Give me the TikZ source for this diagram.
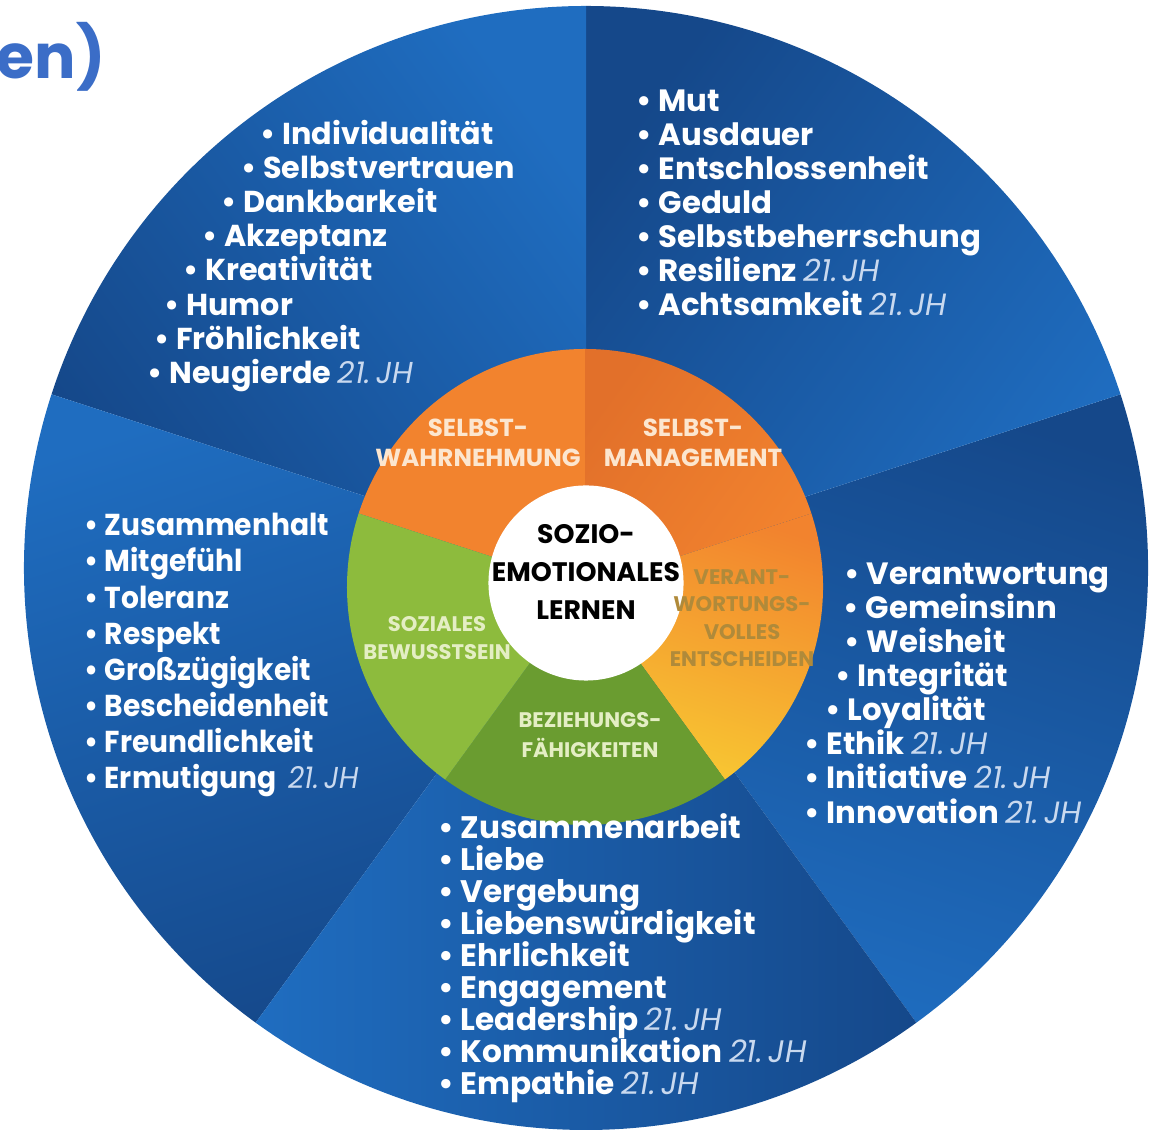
\documentclass[tikz,border=0pt]{standalone}
\usepackage{fontspec}
\setmainfont{Poppins}
\newfontfamily\narrowfont{Poppins}[FakeStretch=0.93]
\usepackage{xcolor}
\usetikzlibrary{positioning}

\definecolor{titleblue}{HTML}{3B6DC7}
\definecolor{bluedark}{HTML}{15488A}
\definecolor{bluelight}{HTML}{1F6DC0}
\definecolor{orangeL}{HTML}{F2832E}
\definecolor{orangeD}{HTML}{E2702A}
\definecolor{sunny}{HTML}{F8C832}
\definecolor{greenL}{HTML}{8DBB3D}
\definecolor{greenD}{HTML}{6A9C30}
\definecolor{cream}{HTML}{FCE6CF}
\definecolor{palegreen}{HTML}{E4EEC4}
\definecolor{ochre}{HTML}{B08A3A}
\definecolor{jhblue}{HTML}{C9D9EF}

\newcommand{\jh}{{\mdseries\itshape\color{jhblue}21.\,JH}}
\newcommand{\itm}{\textbullet\ }
\newcommand{\tightlines}{\lineskiplimit=-20pt\relax}

\begin{document}
\begin{tikzpicture}[
    x=0.01cm, y=0.01cm,
    list/.style={anchor=west, align=left, inner sep=0pt, text=white,
        font=\bfseries\fontsize{8.6}{9.7}\selectfont\tightlines},
    ring/.style={align=center, inner sep=0pt, font=\bfseries\fontsize{6}{7.8}\selectfont}
]
\useasboundingbox (0,0) rectangle (1158,1131);

\coordinate (mid) at (586,563);
\coordinate (hub) at (585,544);

% outer fan, each piece darker at its counter-clockwise edge
\foreach \a in {-54,18,90,162,234}{
    \pgfmathsetmacro{\sa}{\a+36}
    \shade[top color=bluedark, bottom color=bluelight, shading angle=\sa]
        (mid) -- ++(\a:562) arc[start angle=\a, delta angle=72, radius=562] -- cycle;
}

% inner ring
\fill[orangeL] (hub) -- ++(90:238) arc[start angle=90, delta angle=72, radius=238] -- cycle;
\shade[top color=orangeD, bottom color=orangeL, shading angle=54]
    (hub) -- ++(18:238) arc[start angle=18, delta angle=72, radius=238] -- cycle;
\shade[top color=orangeL, middle color=sunny, bottom color=sunny, shading angle=-18]
    (hub) -- ++(-54:238) arc[start angle=-54, delta angle=72, radius=238] -- cycle;
\fill[greenD] (hub) -- ++(-126:238) arc[start angle=-126, delta angle=72, radius=238] -- cycle;
\fill[greenL] (hub) -- ++(162:238) arc[start angle=162, delta angle=72, radius=238] -- cycle;

\node[circle, fill=white, minimum size=1.95cm, inner sep=0pt] (sel) at (586,548) {};
\node[align=center, inner sep=0pt, font=\bfseries\fontsize{7.6}{10.8}\selectfont]
    (selt) at (586,559) {SOZIO-\\EMOTIONALES\\LERNEN};

\node[ring, text=cream, font=\bfseries\fontsize{7}{8.5}\selectfont] (swa) at (478,688) {SELBST-\\WAHRNEHMUNG};
\node[ring, text=cream, font=\bfseries\fontsize{7}{8.5}\selectfont] (sma) at (693,688) {SELBST-\\MANAGEMENT};
\node[ring, text=ochre] (ven) at (742,513) {VERANT-\\WORTUNGS-\\VOLLES\\ENTSCHEIDEN};
\node[ring, text=palegreen] (sob) at (437,493) {SOZIALES\\BEWUSSTSEIN};
\node[ring, text=palegreen, font=\bfseries\fontsize{6}{8.5}\selectfont] (bez) at (590,396) {BEZIEHUNGS-\\FÄHIGKEITEN};

% title fragment
\node[anchor=base west, inner sep=0pt, text=titleblue, font=\bfseries\fontsize{17.5}{17.5}\selectfont] (ttl) at (-4,1052) {en)};

\node[list] (swl) at (147,875) {\hspace*{1.13cm}\itm Individualität\\
    \hspace*{0.94cm}\itm Selbstvertrauen\\
    \hspace*{0.74cm}\itm Dankbarkeit\\
    \hspace*{0.55cm}\itm Akzeptanz\\
    \hspace*{0.36cm}\itm Kreativität\\
    \hspace*{0.17cm}\itm Humor\\
    \hspace*{0.07cm}\itm Fröhlichkeit\\
    \itm Neugierde \jh};

\node[list, font=\bfseries\fontsize{8.75}{9.7}\selectfont\tightlines] (sml) at (636,928) {\itm Mut\\
    \itm Ausdauer\\
    \itm Entschlossenheit\\
    \itm Geduld\\
    \itm Selbstbeherrschung\\
    \itm Resilienz \jh\\
    \itm Achtsamkeit \jh};

\node[list, font=\bfseries\fontsize{8.75}{9.7}\selectfont\tightlines] (venl) at (804,438) {\hspace*{0.40cm}\itm Verantwortung\\
    \hspace*{0.39cm}\itm Gemeinsinn\\
    \hspace*{0.40cm}\itm Weisheit\\
    \hspace*{0.31cm}\itm Integrität\\
    \hspace*{0.21cm}\itm Loyalität\\
    \itm Ethik \jh\\
    \itm Initiative \jh\\
    \itm Innovation \jh};

\node[list, font=\narrowfont\bfseries\fontsize{8.6}{10.24}\selectfont\tightlines] (sobl) at (84,476) {\itm Zusammenhalt\\
    \itm Mitgefühl\\
    \itm Toleranz\\
    \itm Respekt\\
    \itm Großzügigkeit\\
    \itm Bescheidenheit\\
    \itm Freundlichkeit\\
    \itm Ermutigung\ \ \jh};

\node[list, font=\bfseries\fontsize{8.85}{9.1}\selectfont\tightlines] (bezl) at (438,173) {\itm Zusammenarbeit\\
    \itm Liebe\\
    \itm Vergebung\\
    \itm Liebenswürdigkeit\\
    \itm Ehrlichkeit\\
    \itm Engagement\\
    \itm Leadership \jh\\
    \itm Kommunikation \jh\\
    \itm Empathie \jh};

\end{tikzpicture}
\end{document}
